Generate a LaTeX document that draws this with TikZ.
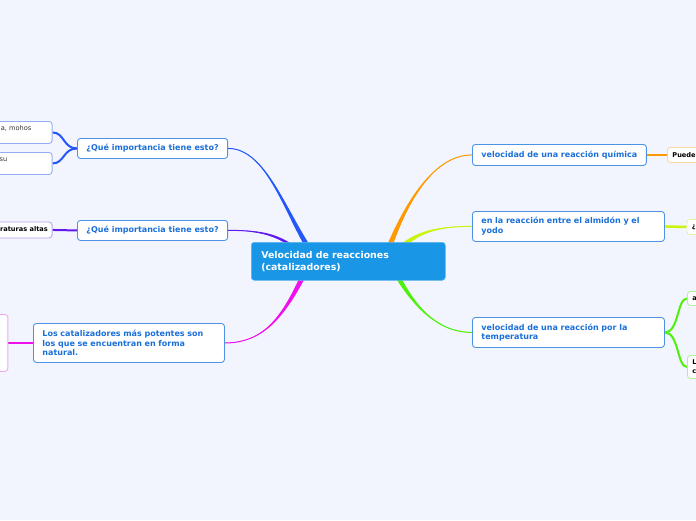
\documentclass[tikz,border=0pt]{standalone}
\usepackage{fontspec}
\setmainfont{DejaVu Sans}
\usetikzlibrary{calc}
\pgfdeclarelayer{backdrop}
\pgfdeclarelayer{links}
\pgfsetlayers{backdrop,links,main}
\definecolor{bg}{HTML}{F2F5FD}
\definecolor{cblue}{HTML}{1A96E6}
\definecolor{nborder}{HTML}{4C93E8}
\definecolor{ntext}{HTML}{1B6FD8}
\definecolor{brblue}{HTML}{2457FA}
\definecolor{brpurple}{HTML}{6219EE}
\definecolor{brmagenta}{HTML}{EE11EE}
\definecolor{brorange}{HTML}{FF9900}
\definecolor{brygreen}{HTML}{C8F50A}
\definecolor{brgreen}{HTML}{4CF20A}
\definecolor{lblue}{HTML}{94AEF6}
\definecolor{lpurple}{HTML}{B9A2F2}
\definecolor{lmagenta}{HTML}{F4A6F4}
\definecolor{lorange}{HTML}{F8D7A6}
\definecolor{lygreen}{HTML}{E1F4A4}
\definecolor{lgreen}{HTML}{AEF2A0}
\newcommand\taper[6]{%
  \fill[#1] (#2) .. controls (#3) and (#4) .. ($(#5)+(#6)$) -- ($(#5)-(#6)$) .. controls ($(#4)-(#6)$) and (#3) .. (#2) -- cycle;
  \draw[#1, line width=1pt] (#2) .. controls (#3) and (#4) .. (#5);
}
\tikzset{
  box/.style={draw=nborder, line width=0.9pt, rounded corners=3pt, fill=white, text=ntext,
    font=\bfseries\fontsize{8}{9.6}\selectfont, inner xsep=9pt, inner ysep=0pt, anchor=north west},
  leaf/.style={line width=0.9pt, rounded corners=3pt, fill=white, text=black,
    font=\bfseries\fontsize{6.6}{9}\selectfont, align=left, inner xsep=5pt, inner ysep=0pt},
  leaftext/.style={inner sep=0pt, font=\bfseries\fontsize{6.6}{9}\selectfont, text=black},
  plaintext/.style={inner sep=0pt, font=\fontsize{6.6}{9}\selectfont, text=black!80},
}
\begin{document}
\begin{tikzpicture}[x=1pt,y=-1pt]
\useasboundingbox (0,0) rectangle (696,520);
\clip (0,0) rectangle (696,520);
\begin{pgfonlayer}{backdrop}
\fill[bg] (0,0) rectangle (696,520);
\end{pgfonlayer}

% named points for branch geometry
\coordinate (sb) at (310,250);
\coordinate (sp) at (295,248);
\coordinate (sm) at (305,272);
\coordinate (so) at (388,250);
\coordinate (sy) at (400,248);
\coordinate (sg) at (395,272);

% central node
\node[fill=cblue, draw=cblue!70!white, line width=0.5pt, rounded corners=3pt, text=white, anchor=north west,
  font=\bfseries\fontsize{9.4}{12}\selectfont, align=left, text width=174, inner xsep=10pt, inner ysep=0pt,
  minimum height=38] (c) at (251,242) {Velocidad de reacciones\\(catalizadores)};

% main topic nodes
\node[box, minimum width=147, minimum height=20] (l1) at (77,138) {¿Qué importancia tiene esto?};
\node[box, minimum width=147, minimum height=20] (l2) at (77,220) {¿Qué importancia tiene esto?};
\node[box, text width=173, align=left, minimum height=39] (l3) at (33,323)
  {Los catalizadores más potentes son\\los que se encuentran en forma\\natural.};
\node[box, minimum width=171, minimum height=21] (r1) at (472,144) {velocidad de una reacción química};
\node[box, text width=174, align=left, minimum height=30] (r2) at (472,211)
  {en la reacción entre el almidón y el\\yodo};
\node[box, text width=174, align=left, minimum height=30] (r3) at (472,317)
  {velocidad de una reacción por la\\temperatura};

% leaves
\node[leaf, draw=lblue, anchor=north east, minimum width=90, minimum height=22] (l1a) at (52.5,121) {};
\node[plaintext, anchor=east] (l1at) at (31.5,128.5) {a, mohos};
\node[leaf, draw=lblue, anchor=north east, minimum width=90, minimum height=22] (l1b) at (52.5,152) {};
\node[plaintext, anchor=east] (l1bt) at (7.5,160) {su};
\node[leaf, draw=lpurple, anchor=north east, minimum width=90, minimum height=16] (l2a) at (52.5,221.5) {};
\node[leaftext, anchor=east] (l2at) at (48,229.5) {raturas altas};
\node[leaf, draw=lmagenta, anchor=north east, minimum width=60, minimum height=57] (l3a) at (8.3,314) {};
\node[leaf, draw=lorange, anchor=north west, text width=40, minimum height=15] (p) at (667,147) {Puede};
\node[leaf, draw=lygreen, anchor=north west, text width=30, minimum height=15] (q) at (686.5,219) {¿};
\node[leaf, draw=lgreen, anchor=north west, text width=30, minimum height=14] (ga) at (687,291) {a};
\node[leaf, draw=lgreen, anchor=north west, text width=30, minimum height=23] (gl) at (687,355) {L\\c};

\begin{pgfonlayer}{links}
% main branches
\taper{brblue}{l1.east}{265,148}{287,212}{sb}{3,0}
\taper{brpurple}{l2.east}{255,230}{275,234}{sp}{1,2.5}
\taper{brmagenta}{l3.east}{262,343}{285,318}{sm}{3,0}
\taper{brorange}{r1.west}{430,155}{405,210}{so}{3,0}
\taper{brygreen}{r2.west}{440,226}{420,232}{sy}{1,2.5}
\taper{brgreen}{r3.west}{435,332}{415,305}{sg}{3,0}

% secondary connectors
\draw[brorange, line width=2.5pt] (r1.east) -- (p.west);
\draw[brygreen, line width=2.5pt] (r2.east) -- (q.west);
\draw[brgreen, line width=2pt] (r3.east) .. controls +(14,0) and +(-10,0) .. (ga.west);
\draw[brgreen, line width=2pt] (r3.east) .. controls +(14,0) and +(-10,0) .. (gl.west);
\draw[brblue, line width=2pt] (l1.west) .. controls +(-14,0) and +(12,0) .. (l1a.east);
\draw[brblue, line width=2pt] (l1.west) .. controls +(-14,0) and +(12,0) .. (l1b.east);
\draw[brpurple, line width=2pt] (l2.west) -- (l2a.east);
\draw[brmagenta, line width=2.5pt] (l3.west) -- (l3a.east);
\end{pgfonlayer}
\end{tikzpicture}
\end{document}
